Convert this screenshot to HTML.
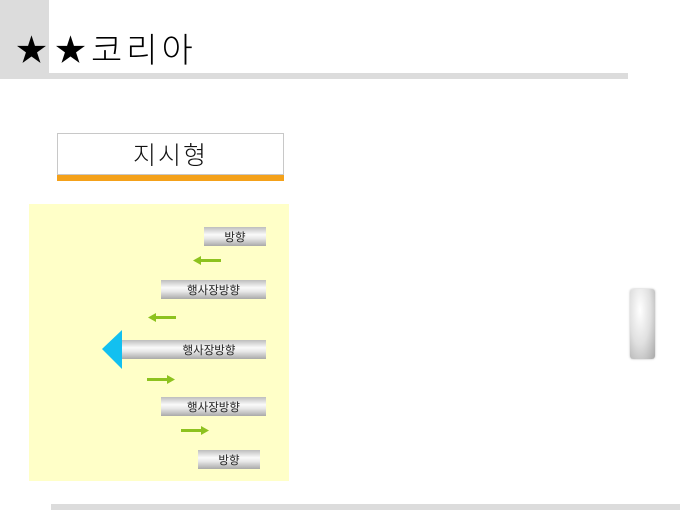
<!DOCTYPE html>
<html><head><meta charset="utf-8"><style>
body{margin:0;width:680px;height:510px;position:relative;background:#fff;overflow:hidden;font-family:"Liberation Sans","Noto Sans CJK KR",sans-serif}
.a{position:absolute}
.bar{position:absolute;background:linear-gradient(#bdbdbd,#fafafa 40%,#e8e8e8 60%,#a9a9a9);font-size:11.5px;color:#222;display:flex;align-items:center;justify-content:center;height:19px}
</style></head><body>
<div class="a" style="left:0;top:0;width:49px;height:79px;background:#dcdcdc"></div>
<div class="a" style="left:0;top:73px;width:628px;height:6px;background:#dcdcdc"></div>
<div class="a" style="left:16px;top:31px;font-size:31px;line-height:40px;color:#000">★</div>
<div class="a" style="left:55px;top:31px;font-size:31px;line-height:40px;color:#000">★</div>
<div class="a" style="left:91px;top:29px;font-size:34px;line-height:44px;color:#000;font-weight:300;letter-spacing:4px;white-space:nowrap">코리아</div>
<div class="a" style="left:57px;top:133px;width:225px;height:40px;border:1px solid #c8c8c8;font-size:25px;font-weight:300;letter-spacing:2px;display:flex;align-items:center;justify-content:center;color:#111">지시형</div>
<div class="a" style="left:57px;top:175px;width:227px;height:6px;background:#f4a11a"></div>
<div class="a" style="left:29px;top:204px;width:260px;height:277px;background:#ffffc8"></div>
<div class="bar" style="left:204px;top:227px;width:62px">방향</div>
<div class="bar" style="left:161px;top:280px;width:105px">행사장방향</div>
<div class="bar" style="left:122px;top:340px;width:144px;padding-left:30px;box-sizing:border-box">행사장방향</div>
<div class="bar" style="left:161px;top:397px;width:105px">행사장방향</div>
<div class="bar" style="left:198px;top:450px;width:62px">방향</div>
<svg class="a" style="left:0;top:0" width="680" height="510">
<polygon points="102,349 122,330 122,369" fill="#12c0f0"/>
<g fill="#8dc21f">
<rect x="200" y="259" width="21" height="3"/><polygon points="193,260.5 201,256 201,265"/>
<rect x="155" y="316" width="21" height="3"/><polygon points="148,317.5 156,313 156,322"/>
<rect x="147" y="378" width="21" height="3"/><polygon points="175,379.5 167,375 167,384"/>
<rect x="181" y="429" width="21" height="3"/><polygon points="209,430.5 201,426 201,435"/>
</g>
</svg>
<div class="a" style="left:630px;top:289px;width:25px;height:70px;border-radius:3px;background:radial-gradient(ellipse at 40% 30%,#fff,#e0e0e0 50%,#a8a8a8);box-shadow:0 0 2px #bbb"></div>
<div class="a" style="left:51px;top:504px;width:629px;height:6px;background:#dcdcdc"></div>
</body></html>
